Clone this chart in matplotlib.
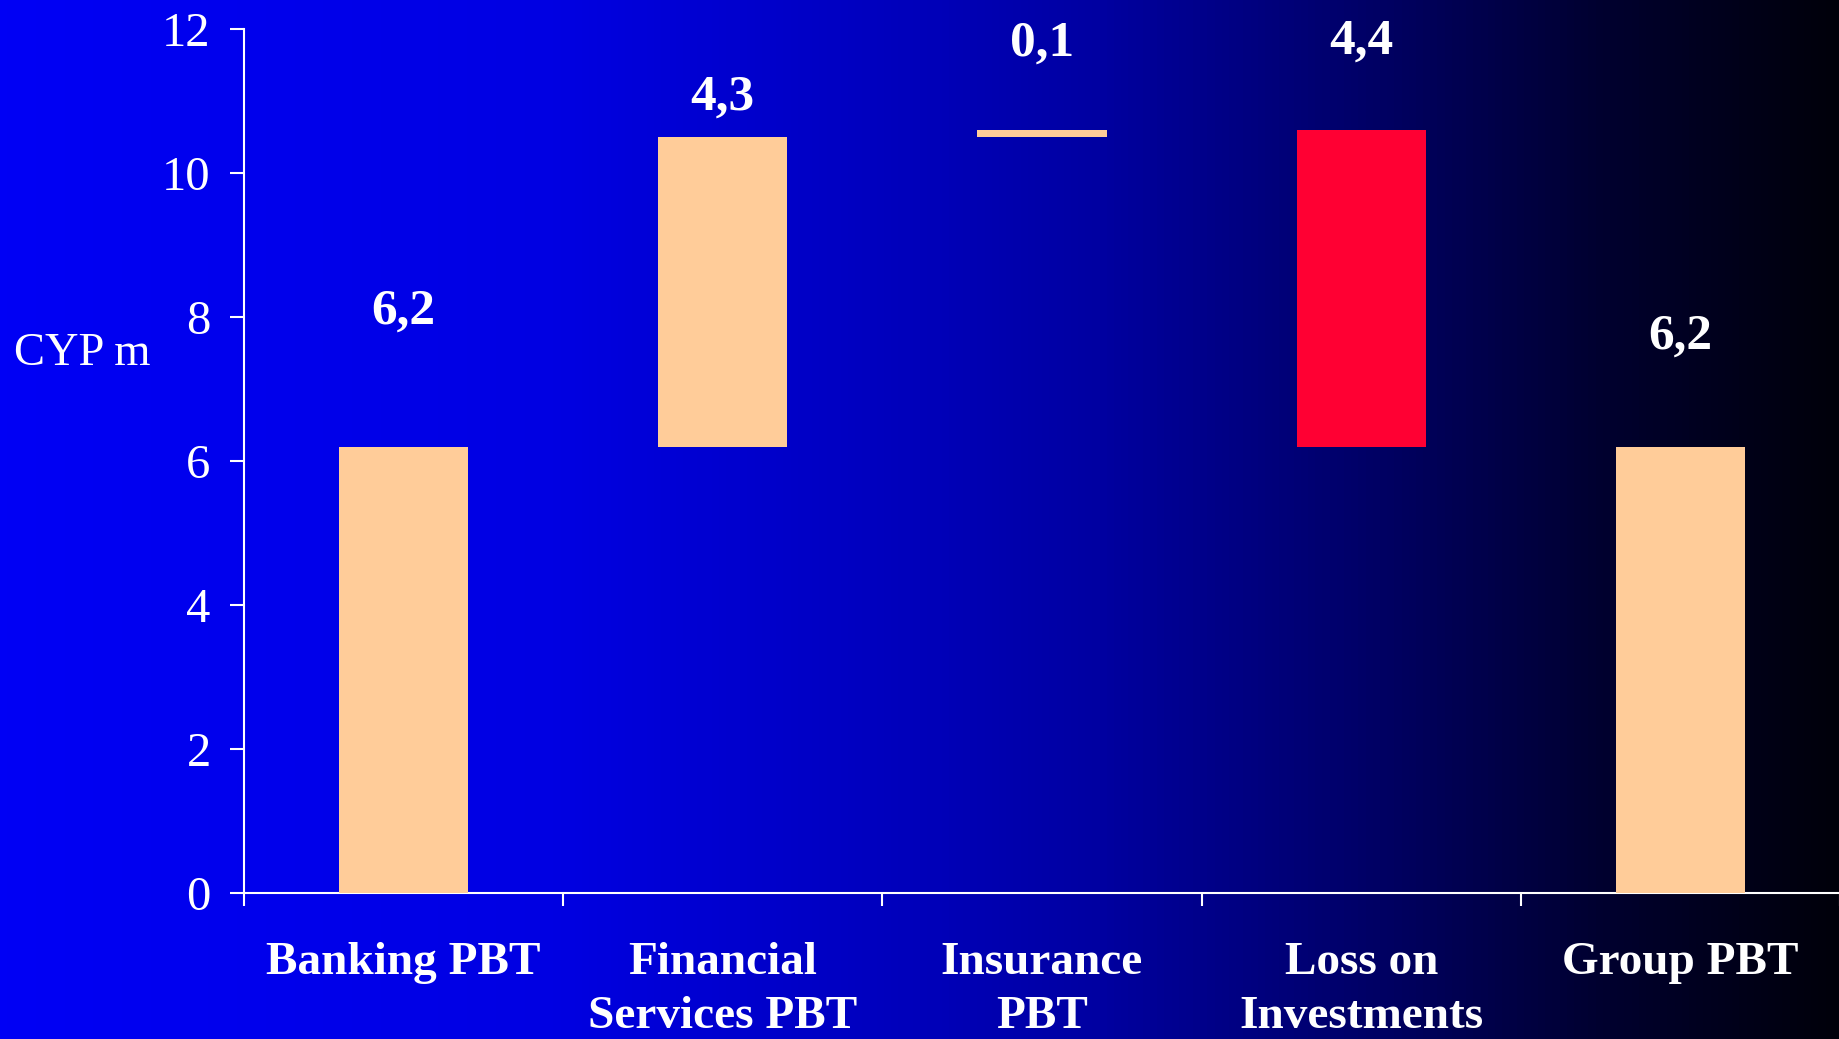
import numpy as np
import matplotlib
matplotlib.use("Agg")
import matplotlib.pyplot as plt
from matplotlib.colors import LinearSegmentedColormap

# Waterfall data (CYP millions)
categories = ["Banking PBT", "Financial\nServices PBT", "Insurance\nPBT",
              "Loss on\nInvestments", "Group PBT"]
bar_bottoms = [0.0, 6.2, 10.5, 6.2, 0.0]
bar_heights = [6.2, 4.3, 0.1, 4.4, 6.2]
value_labels = ["6,2", "4,3", "0,1", "4,4", "6,2"]
label_y = [8.08, 11.04, 11.8, 11.83, 7.73]
y_ticks = [0, 2, 4, 6, 8, 10, 12]

PEACH = "#FFCC99"
RED = "#FF0033"
bar_colors = [PEACH, PEACH, PEACH, RED, PEACH]

serif = ["Liberation Serif", "DejaVu Serif"]

fig = plt.figure(figsize=(18.4, 10.39), dpi=100)

# Horizontal blue-to-black background
bg = fig.add_axes([0, 0, 1, 1], zorder=-10)
bg_cmap = LinearSegmentedColormap.from_list(
    "bg",
    [(0.00, "#0000F5"), (0.30, "#0000E2"), (0.51, "#0000B8"),
     (0.60, "#0000A0"), (0.76, "#000060"), (0.87, "#000030"),
     (1.00, "#00000A")])
bg.imshow(np.linspace(0, 1, 512)[None, :], aspect="auto", cmap=bg_cmap,
          extent=[0, 1, 0, 1])
bg.set_axis_off()

ax = fig.add_axes([244 / 1840, 146 / 1039, 1 - 244 / 1840, 864 / 1039])
ax.set_facecolor("none")

x = np.arange(len(categories))
ax.bar(x, bar_heights, bottom=bar_bottoms, width=0.405, color=bar_colors,
       zorder=3)

for xi, txt, yy in zip(x, value_labels, label_y):
    ax.text(xi, yy, txt, ha="center", va="center", color="white",
            fontsize=37, fontweight="bold", family=serif, clip_on=False)

ax.set_xlim(-0.5, len(categories) - 0.5)
ax.set_ylim(0, 12)
ax.set_yticks(y_ticks)
ax.set_yticklabels([str(t) for t in y_ticks], family=serif, fontsize=35,
                   color="white")
ax.tick_params(axis="y", direction="out", length=10, width=1.5,
               color="white", pad=14)

ax.set_xticks(x)
ax.set_xticklabels(categories, family=serif, fontsize=34, fontweight="bold",
                   color="white", linespacing=1.38)
ax.tick_params(axis="x", which="major", length=0, pad=35)
ax.set_xticks(np.arange(-0.5, len(categories)), minor=True)
ax.tick_params(axis="x", which="minor", direction="out", length=9,
               width=1.5, color="white")

for side in ("top", "right"):
    ax.spines[side].set_visible(False)
for side in ("left", "bottom"):
    ax.spines[side].set_color("white")
    ax.spines[side].set_linewidth(1.5)

fig.text(14 / 1840, 1 - 354 / 1039, "CYP m", family=serif, fontsize=33.5,
         color="white", ha="left", va="center")

fig.savefig("out.png", dpi=100)
